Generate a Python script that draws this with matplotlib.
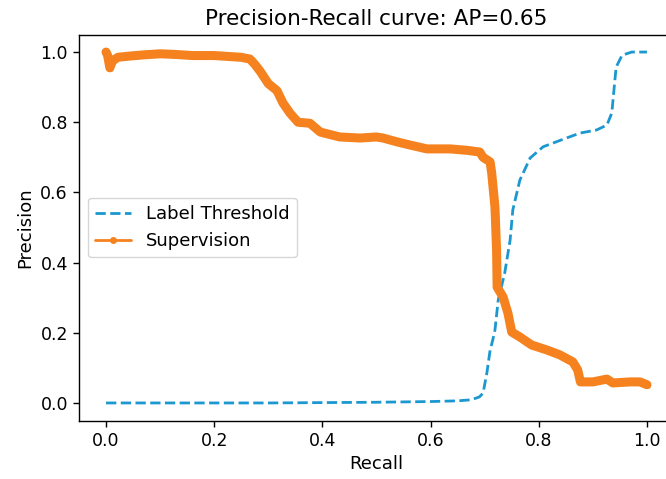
import matplotlib.pyplot as plt

# Label Threshold curve
thr_recall = [0.0, 0.1, 0.2, 0.3, 0.4, 0.5, 0.6, 0.65, 0.675, 0.69, 0.697, 0.704, 0.71,
              0.715, 0.719, 0.725, 0.737, 0.747, 0.752, 0.765, 0.784, 0.808, 0.839,
              0.876, 0.907, 0.926, 0.935, 0.939, 0.943, 0.954, 0.972, 1.0]
thr_precision = [0.0, 0.0, 0.0, 0.0, 0.001, 0.002, 0.004, 0.006, 0.009, 0.017, 0.028, 0.085,
                 0.15, 0.18, 0.208, 0.293, 0.37, 0.464, 0.55, 0.635, 0.698, 0.73, 0.748,
                 0.769, 0.778, 0.792, 0.826, 0.892, 0.957, 0.991, 1.0, 1.0]

# Supervision curve
sup_recall = [0.0, 0.003, 0.007, 0.012, 0.022, 0.04, 0.07, 0.1, 0.13, 0.16, 0.2, 0.23, 0.25,
              0.266, 0.275, 0.285, 0.3, 0.316, 0.327, 0.34, 0.355, 0.377, 0.396, 0.432,
              0.47, 0.5, 0.512, 0.538, 0.562, 0.593, 0.636, 0.667, 0.691, 0.697, 0.71,
              0.713, 0.719, 0.722, 0.723, 0.734, 0.743, 0.75, 0.765, 0.787, 0.815, 0.839,
              0.863, 0.872, 0.877, 0.9, 0.926, 0.937, 0.969, 0.987, 1.0]
sup_precision = [1.0, 0.99, 0.955, 0.975, 0.985, 0.988, 0.992, 0.995, 0.993, 0.99, 0.99,
                 0.987, 0.985, 0.98, 0.965, 0.945, 0.91, 0.89, 0.855, 0.826, 0.80, 0.797,
                 0.772, 0.758, 0.755, 0.758, 0.755, 0.744, 0.735, 0.724, 0.724, 0.72,
                 0.715, 0.70, 0.687, 0.655, 0.558, 0.436, 0.33, 0.302, 0.256, 0.202,
                 0.188, 0.165, 0.151, 0.137, 0.117, 0.094, 0.06, 0.06, 0.068, 0.057, 0.06,
                 0.06, 0.052]

fig = plt.figure(figsize=(6.66, 4.79), dpi=100)
ax = fig.add_axes([79/666, 58.5/479, 595/666, 386/479])

ax.plot(thr_recall, thr_precision, linestyle='--', color='#1b98d0', lw=2,
        label='Label Threshold')
ax.plot(sup_recall, sup_precision, marker='.', color='#f5821f', lw=6.5,
        markersize=8, solid_capstyle='round', solid_joinstyle='round',
        label='Supervision')

ax.set_xlim(-0.05, 1.05)
ax.set_ylim(-0.05, 1.05)
ax.set_xticks([0.0, 0.2, 0.4, 0.6, 0.8, 1.0])
ax.set_yticks([0.0, 0.2, 0.4, 0.6, 0.8, 1.0])
ax.tick_params(labelsize=12.5, length=4.5, width=1.0)
for s in ax.spines.values():
    s.set_linewidth(1.0)
ax.set_xlabel('Recall', fontsize=13)
ax.set_ylabel('Precision', fontsize=13)
ax.set_title('Precision-Recall curve: AP=0.65', fontsize=15.5, pad=7)

leg = ax.legend(loc='center left', fontsize=13)
leg.legend_handles[1].set_linewidth(2)

fig.savefig('out.png', dpi=100)
